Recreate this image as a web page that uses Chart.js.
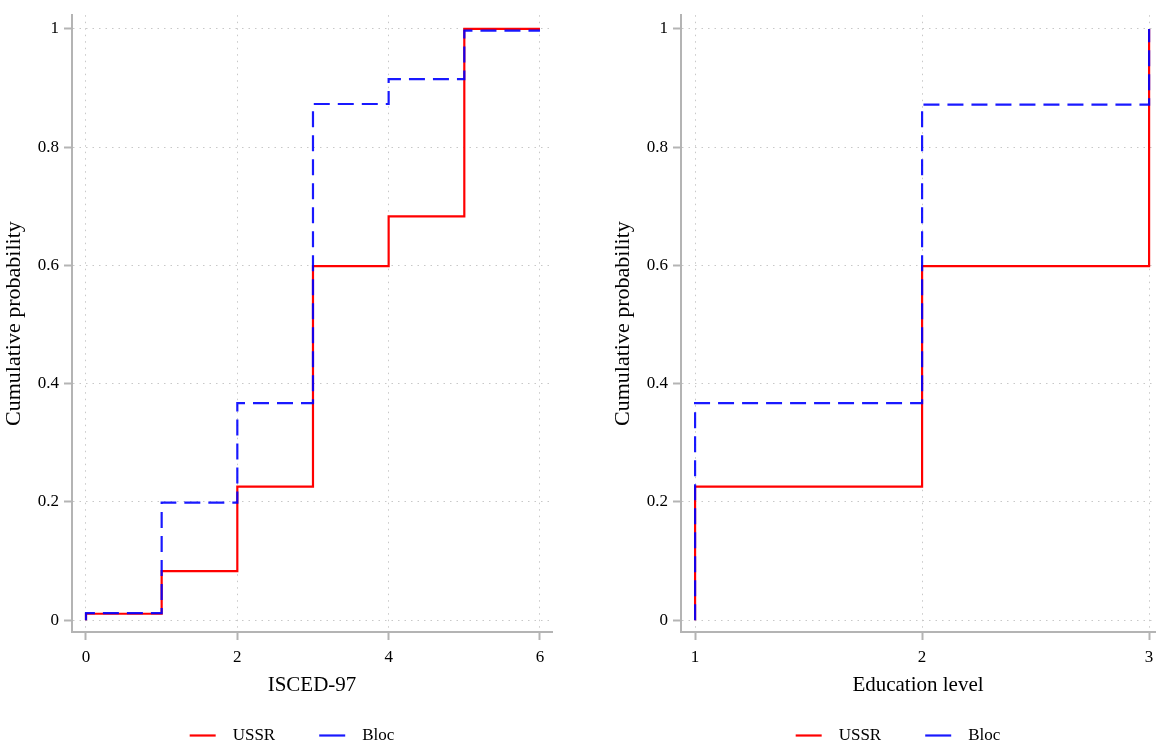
<!DOCTYPE html>
<html>
<head>
<meta charset="utf-8">
<title>Cumulative probability</title>
<script src="https://cdn.jsdelivr.net/npm/chart.js@4.4.1/dist/chart.umd.min.js"></script>
<style>
  html, body { margin: 0; padding: 0; background: #fff; }
  body { width: 1158px; height: 747px; position: relative; overflow: hidden; }
  canvas { position: absolute; top: 0; }
</style>
</head>
<body>
<canvas id="iscedChart" width="579" height="747" style="left:0"></canvas>
<canvas id="eduChart" width="549" height="747" style="left:609px"></canvas>
<script>
// left panel, ISCED-97 (the first point is where the curve starts)
const iscedLevels = [0, 0, 1, 2, 3, 4, 5, 6];
const ussrIsced = [0, 0.011, 0.083, 0.226, 0.599, 0.683, 1.0, 1.0];
const blocIsced = [0, 0.012, 0.199, 0.367, 0.873, 0.915, 0.997, 0.997];

// right panel, education level
const eduLevels = [1, 1, 2, 3];
const ussrEdu = [0, 0.226, 0.599, 1.0];
const blocEdu = [0, 0.367, 0.872, 1.0];

const iscedTicks = [0, 2, 4, 6];
const eduTicks = [1, 2, 3];
const probTicks = [0, 0.2, 0.4, 0.6, 0.8, 1];
const probLabels = ['0', '0.2', '0.4', '0.6', '0.8', '1'];

const serif = 'Liberation Serif';
const axisGrey = '#b4b4b4';

function points(xs, ys) {
    return xs.map((x, i) => ({ x: x, y: ys[i] }));
}

// Stata centres the legend on the whole graph, not on the plot region
const legendShift = {
    id: 'legendShift',
    afterLayout(chart) {
        if (chart.legend) {
            chart.legend.left = chart.chartArea.left - 40;
            chart.legend.right = chart.chartArea.right;
        }
    }
};

function makePanel(canvasId, xs, ussr, bloc, xTicks, xMin, xMax, xTitle, padRight) {
    const ctx = document.getElementById(canvasId).getContext('2d');
    return new Chart(ctx, {
        type: 'line',
        data: {
            datasets: [
                {
                    label: 'USSR',
                    data: points(xs, ussr),
                    borderColor: '#ff0000',
                    borderWidth: 2.2,
                    stepped: 'before',
                    pointRadius: 0,
                    fill: false,
                    order: 1
                },
                {
                    label: 'Bloc',
                    data: points(xs, bloc),
                    borderColor: 'rgba(0, 0, 255, 0.9)',
                    borderWidth: 2.2,
                    borderDash: [16, 8],
                    stepped: 'before',
                    pointRadius: 0,
                    fill: false,
                    order: 0
                }
            ]
        },
        options: {
            responsive: false,
            animation: false,
            devicePixelRatio: 1,
            layout: { padding: { top: 3, right: padRight, left: 0, bottom: 0 } },
            plugins: {
                tooltip: { enabled: false },
                legend: {
                    position: 'bottom',
                    maxHeight: 30,
                    labels: {
                        usePointStyle: true,
                        pointStyle: 'line',
                        pointStyleWidth: 26,
                        padding: 10,
                        color: '#000',
                        font: { family: serif, size: 17 },
                        generateLabels(chart) {
                            const items = Chart.defaults.plugins.legend.labels.generateLabels(chart);
                            items.sort((a, b) => a.datasetIndex - b.datasetIndex);
                            items[0].text = '  ' + items[0].text + '\u2003\u2003';
                            items[1].text = '  ' + items[1].text;
                            return items;
                        }
                    }
                }
            },
            scales: {
                x: {
                    type: 'linear',
                    min: xMin,
                    max: xMax,
                    afterBuildTicks(scale) {
                        scale.ticks = xTicks.map(v => ({ value: v }));
                    },
                    afterFit(scale) {
                        scale.height = 85;
                    },
                    ticks: {
                        padding: 0,
                        color: '#000',
                        font: { family: serif, size: 17, lineHeight: 2.1 }
                    },
                    grid: {
                        color: '#c8c8c8',
                        lineWidth: 1,
                        tickLength: 8,
                        tickWidth: 2,
                        tickColor: axisGrey
                    },
                    border: { color: axisGrey, width: 2, dash: [1.5, 5] },
                    title: {
                        display: true,
                        text: xTitle,
                        color: '#000',
                        font: { family: serif, size: 21 },
                        padding: { top: 0, bottom: 19 }
                    }
                },
                y: {
                    type: 'linear',
                    min: -0.0199,
                    max: 1.0232,
                    afterBuildTicks(scale) {
                        scale.ticks = probTicks.map(v => ({ value: v }));
                    },
                    afterFit(scale) {
                        scale.width = 72;
                    },
                    ticks: {
                        padding: 5,
                        color: '#000',
                        font: { family: serif, size: 17 },
                        callback: (value, index) => probLabels[index]
                    },
                    grid: {
                        color: '#c8c8c8',
                        lineWidth: 1,
                        tickLength: 8,
                        tickWidth: 2,
                        tickColor: axisGrey
                    },
                    border: { color: axisGrey, width: 2, dash: [1.5, 5] },
                    title: {
                        display: true,
                        text: 'Cumulative probability',
                        color: '#000',
                        font: { family: serif, size: 22 },
                        padding: { top: 1, bottom: 0 }
                    }
                }
            }
        },
        plugins: [legendShift]
    });
}

document.addEventListener('DOMContentLoaded', function () {
    makePanel('iscedChart', iscedLevels, ussrIsced, blocIsced, iscedTicks, -0.185, 6.159, 'ISCED-97', 27);
    makePanel('eduChart', eduLevels, ussrEdu, blocEdu, eduTicks, 0.938, 3.026, 'Education level', 3);
});
</script>
</body>
</html>
